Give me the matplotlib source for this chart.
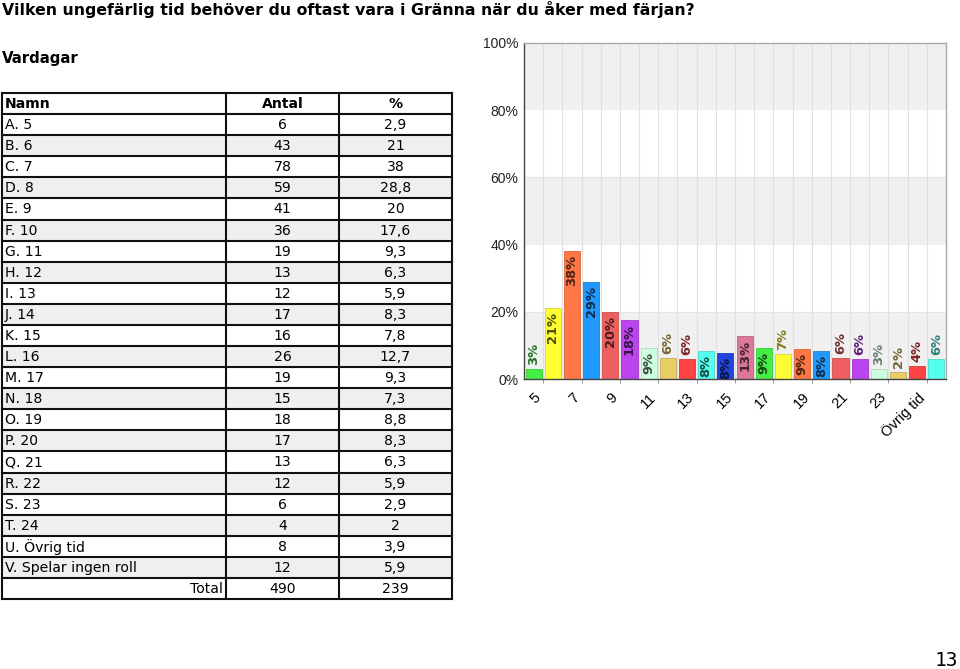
import matplotlib
matplotlib.use("Agg")
import matplotlib.pyplot as plt
from matplotlib.patches import Rectangle
from matplotlib.lines import Line2D
from matplotlib.colors import to_rgb

# ---------------- data ----------------
title = "Vilken ungefärlig tid behöver du oftast vara i Gränna när du åker med färjan?"
subtitle = "Vardagar"
row_names = ["A. 5", "B. 6", "C. 7", "D. 8", "E. 9", "F. 10", "G. 11", "H. 12", "I. 13",
             "J. 14", "K. 15", "L. 16", "M. 17", "N. 18", "O. 19", "P. 20", "Q. 21",
             "R. 22", "S. 23", "T. 24", "U. Övrig tid", "V. Spelar ingen roll"]
antal = [6, 43, 78, 59, 41, 36, 19, 13, 12, 17, 16, 26, 19, 15, 18, 17, 13, 12, 6, 4, 8, 12]
pct_text = ["2,9", "21", "38", "28,8", "20", "17,6", "9,3", "6,3", "5,9", "8,3", "7,8",
            "12,7", "9,3", "7,3", "8,8", "8,3", "6,3", "5,9", "2,9", "2", "3,9", "5,9"]
pct = [2.9, 21, 38, 28.8, 20, 17.6, 9.3, 6.3, 5.9, 8.3, 7.8, 12.7, 9.3, 7.3, 8.8, 8.3,
       6.3, 5.9, 2.9, 2, 3.9, 5.9]
total_antal = "490"
total_pct = "239"
categories = ["5", "6", "7", "8", "9", "10", "11", "12", "13", "14", "15", "16", "17",
              "18", "19", "20", "21", "22", "23", "24", "Övrig tid", "Spelar ingen roll"]
y_ticks = [0, 20, 40, 60, 80, 100]
page_number = "13"

palette = ["#44ee44", "#ffff33", "#ff7744", "#2299ff", "#ee6060", "#bb44ee",
           "#ccffdd", "#e8cc66", "#ff4444", "#55ffee", "#2244dd", "#dd7799"]

# ---------------- figure ----------------
W, H = 960, 669
fig = plt.figure(figsize=(W / 100, H / 100), dpi=100)

def fx(px):
    return px / W

def fy(py):
    return 1 - py / H

main_font = ["DejaVu Sans"]

fig.text(fx(2), fy(10), title, fontsize=11.3, fontweight="bold", family=main_font,
         va="center", ha="left")
fig.text(fx(2), fy(58), subtitle, fontsize=10.8, fontweight="bold", family=main_font,
         va="center", ha="left")

# ---------------- table ----------------
tx0, tx1, tx2, tx3 = 2, 226, 339, 452
ty0 = 93
nrows = len(row_names) + 2
rh = (599 - ty0) / nrows

rows = [("Namn", "Antal", "%")] + list(zip(row_names, [str(a) for a in antal], pct_text)) \
       + [("Total", total_antal, total_pct)]
tfs = 10.1
for i, (n, a, p) in enumerate(rows):
    top = ty0 + i * rh
    if 1 <= i <= len(row_names) and i % 2 == 0:
        fig.patches.append(Rectangle((fx(tx0), fy(top + rh)), fx(tx3) - fx(tx0),
                                     fy(top) - fy(top + rh), transform=fig.transFigure,
                                     facecolor="#efefef", edgecolor="none", zorder=0))
    yc = fy(top + rh / 2 + 0.5)
    bold = "bold" if i == 0 else "normal"
    if i == nrows - 1:
        fig.text(fx(tx1 - 3), yc, n, fontsize=tfs, family=main_font, ha="right", va="center")
    else:
        fig.text(fx(tx0 + 3), yc, n, fontsize=tfs, family=main_font, ha="left", va="center",
                 fontweight=bold)
    fig.text(fx((tx1 + tx2) / 2), yc, a, fontsize=tfs, family=main_font, ha="center",
             va="center", fontweight=bold)
    fig.text(fx((tx2 + tx3) / 2), yc, p, fontsize=tfs, family=main_font, ha="center",
             va="center", fontweight=bold)

for i in range(nrows + 1):
    yy = fy(ty0 + i * rh)
    fig.lines.append(Line2D([fx(tx0), fx(tx3)], [yy, yy], transform=fig.transFigure,
                            color="#111111", lw=1.5))
for xx in (tx0, tx1, tx2, tx3):
    fig.lines.append(Line2D([fx(xx), fx(xx)], [fy(ty0), fy(ty0 + nrows * rh)],
                            transform=fig.transFigure, color="#111111", lw=1.5))

# ---------------- chart ----------------
ax_l, ax_r, ax_t, ax_b = 524, 946, 43, 379
ax = fig.add_axes([fx(ax_l), fy(ax_b), fx(ax_r) - fx(ax_l), fy(ax_t) - fy(ax_b)])
n = len(pct)
xs = list(range(n))
ax.set_xlim(-0.5, n - 0.5)
ax.set_ylim(0, 100)

# horizontal bands
for lo in (0, 40, 80):
    ax.axhspan(lo, lo + 20, color="#f0f0f0", zorder=0, lw=0)
for lo in (20, 60):
    ax.axhline(lo, color="#e4e4e4", lw=0.8, zorder=0.5)
# vertical grid at boundaries
for b in range(1, n):
    ax.axvline(b - 0.5, color="#e0e0e0", lw=0.8, zorder=0.5)

colors = [palette[i % len(palette)] for i in xs]

def darker(c, f):
    r, g, b = to_rgb(c)
    return (r * f, g * f, b * f)

ax.bar(xs, pct, width=0.84, color=colors, edgecolor=[darker(c, 0.85) for c in colors],
       linewidth=0.6, zorder=2)

for x, v, c in zip(xs, pct, colors):
    lab = f"{round(v):d}%"
    if v >= 7.5:
        ax.text(x, v - 1.2, lab, rotation=90, ha="center", va="top", fontsize=9.4,
                fontweight="bold", family=main_font, color=darker(c, 0.3), zorder=3)
    else:
        ax.text(x, v + 1.2, lab, rotation=90, ha="center", va="bottom", fontsize=9.4,
                fontweight="bold", family=main_font, color=darker(c, 0.5), zorder=3)

ax.set_yticks(y_ticks)
ax.set_yticklabels([f"{t}%" for t in y_ticks], family=["Liberation Sans"], fontsize=10)
label_idx = xs[::2][:11]
ax.set_xticks(label_idx)
ax.set_xticklabels([categories[i] for i in label_idx], rotation=45, ha="right",
                   rotation_mode="anchor", family=["Liberation Sans"], fontsize=10.5)
ax.set_xticks([i + 0.5 for i in xs[::2]], minor=True)
ax.tick_params(axis="x", which="major", length=0, pad=8)
ax.tick_params(axis="x", which="minor", length=3, color="#888888")
ax.tick_params(axis="y", length=0, pad=4, colors="#222222")

for s in ("top", "right"):
    ax.spines[s].set_color("#aaaaaa")
    ax.spines[s].set_linewidth(1)
for s in ("left", "bottom"):
    ax.spines[s].set_color("#444444")
    ax.spines[s].set_linewidth(1)

fig.text(fx(958), fy(660), page_number, fontsize=14, family=["DejaVu Sans Mono"],
         ha="right", va="center")

fig.savefig("out.png", dpi=100)
